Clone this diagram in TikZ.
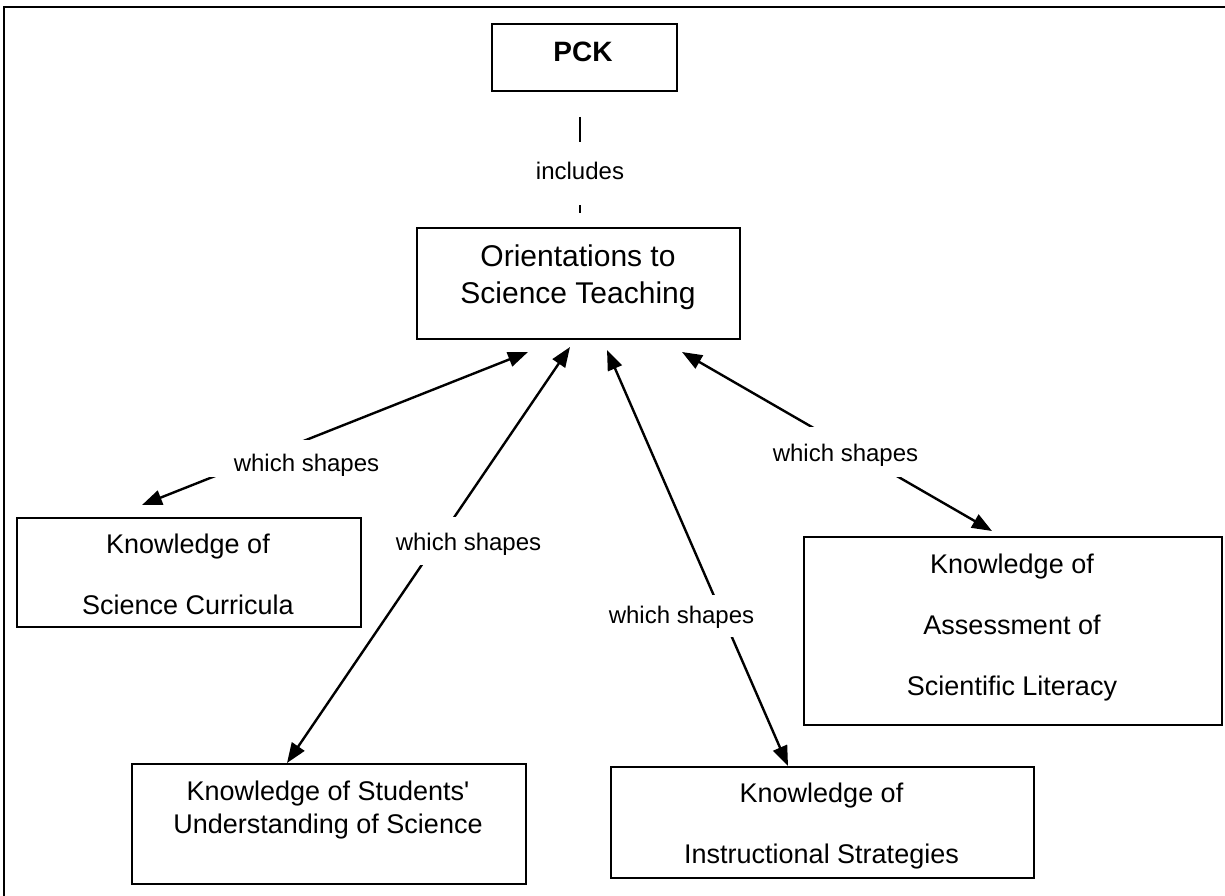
\documentclass[tikz,border=0pt]{standalone}
\usepackage{fontspec}
\setmainfont{Liberation Sans}
\usetikzlibrary{arrows.meta}
\begin{document}
\begin{tikzpicture}[x=1pt,y=-1pt,
  box/.style={draw, line width=2pt, inner sep=0pt, anchor=north west},
  boxtext/.style={align=center, inner sep=0pt, anchor=north},
  conn/.style={line width=2.4pt, {Triangle[length=20pt,width=15pt]}-{Triangle[length=20pt,width=15pt]}},
  lbl/.style={fill=white, inner xsep=30pt, inner ysep=0pt, anchor=base, font=\fontsize{24pt}{28pt}\selectfont},
]
\useasboundingbox (0,0) rectangle (1225,896);
% outer frame (only top and left visible)
\draw[line width=2pt] (1226,7) -- (4,7) -- (4,897);

% boxes
\node[box, minimum width=185pt, minimum height=67pt] (pck) at (491,23) {};
\node[box, minimum width=323pt, minimum height=111pt] (ori) at (416,227) {};
\node[box, minimum width=344pt, minimum height=109pt] (cur) at (16,517) {};
\node[box, minimum width=394pt, minimum height=120pt] (stu) at (131,763) {};
\node[box, minimum width=423pt, minimum height=111pt] (ins) at (610,766) {};
\node[box, minimum width=418pt, minimum height=188pt] (ass) at (803,536) {};

% box texts
\node[inner sep=0pt, anchor=base, font=\fontsize{28pt}{32pt}\selectfont\bfseries] (pckT) at (583,62) {PCK};
\node[boxtext, font=\fontsize{30pt}{36.5pt}\selectfont] (oriT) at (578,245) {Orientations to\\Science Teaching};
\node[boxtext, font=\fontsize{27pt}{61pt}\selectfont] (curT) at (188,533.3) {Knowledge of\\Science Curricula};
\node[boxtext, font=\fontsize{27pt}{33pt}\selectfont] (stuT) at (328,780.3) {Knowledge of Students\textquotesingle\\Understanding of Science};
\node[boxtext, font=\fontsize{27pt}{61.5pt}\selectfont] (insT) at (821.5,782.3) {Knowledge of\\Instructional Strategies};
\node[boxtext, font=\fontsize{27pt}{61pt}\selectfont] (assT) at (1012,553.3) {Knowledge of\\Assessment of\\Scientific Literacy};

% connectors
\draw[line width=2pt] ([xshift=89pt,yshift=-25pt]pck.south west) -- ([xshift=164pt,yshift=14pt]ori.north west);
\draw[conn] ([xshift=112pt,yshift=-12pt]ori.south west) -- ([xshift=126pt,yshift=12pt]cur.north west);
\draw[conn] ([xshift=154pt,yshift=-7pt]ori.south west) -- ([xshift=156pt]stu.north west);
\draw[conn] ([xshift=191pt,yshift=-10pt]ori.south west) -- ([xshift=178pt]ins.north west);
\draw[conn] ([xshift=266pt,yshift=-12pt]ori.south west) -- ([xshift=189pt,yshift=5pt]ass.north west);

% labels
\node[lbl, inner xsep=10pt, text height=37pt, text depth=26pt] (incl) at (580,179) {includes};
\node[lbl, text height=31pt, text depth=6pt] (l1) at (306.5,471) {which shapes};
\node[lbl, text height=33pt, text depth=15pt] (l2) at (468.5,550) {which shapes};
\node[lbl, text height=28pt, text depth=14pt] (l3) at (681.5,623) {which shapes};
\node[lbl, text height=34pt, text depth=16pt] (l4) at (845.5,461) {which shapes};
\end{tikzpicture}
\end{document}
